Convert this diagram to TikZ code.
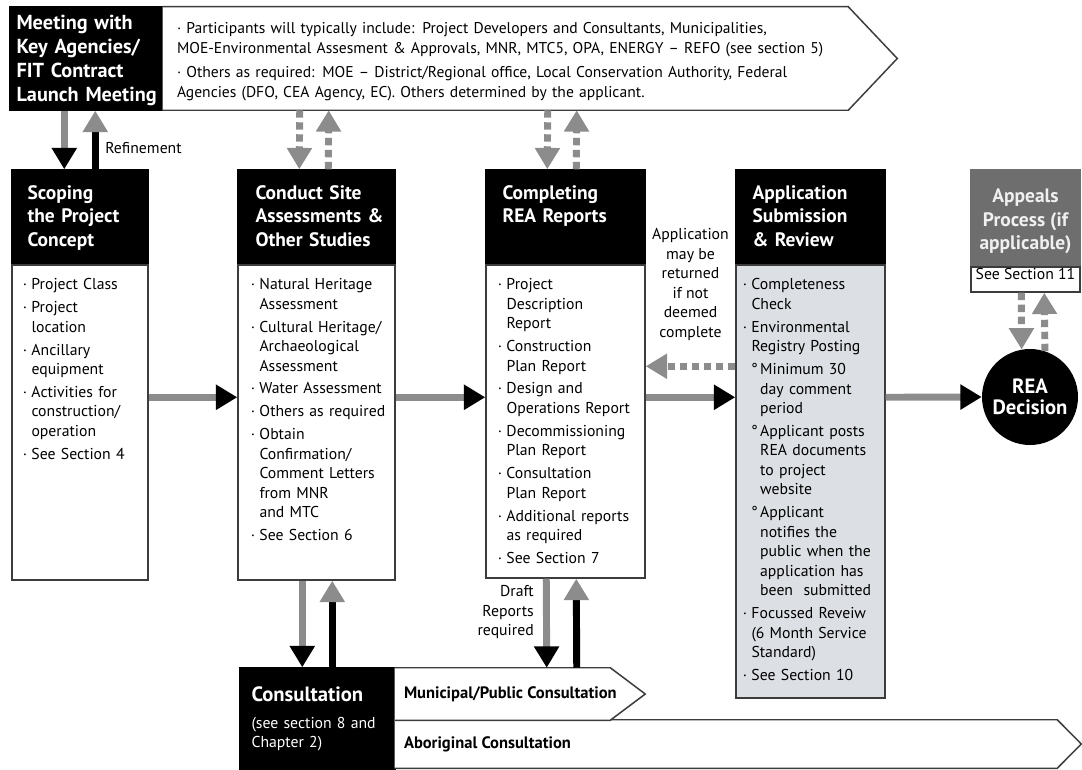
\documentclass[tikz,border=0pt]{standalone}
\usepackage{fontspec}
\setmainfont{PT Sans}
\usetikzlibrary{arrows.meta,calc,fit}
\definecolor{gshaft}{HTML}{8C8C8C}
\definecolor{bordc}{HTML}{3C3C3C}
\definecolor{appfill}{HTML}{DCDFE3}
\definecolor{aplhdr}{HTML}{6E6E6E}
\definecolor{apltxt}{HTML}{F0F0F0}
\newcommand{\bfst}{\noindent\hangindent=6.5pt\hangafter=1\makebox[6.5pt][l]{·}}
\newcommand{\bi}{\par\bfst}
\newcommand{\sbi}{\par\noindent\hangindent=13pt\hangafter=1\hspace*{6.2pt}\makebox[6.8pt][l]{°}}
\newcommand{\nl}{\hfil\break}
\newcommand{\bodyf}{\fontsize{11.8}{14.6}\selectfont\setlength{\parskip}{2.6pt}}
\newcommand{\hdrf}{\fontsize{14.6}{17.6}\selectfont\bfseries}
\begin{document}
\begin{tikzpicture}[x=0.75pt,y=-0.75pt,
  boxr/.style={inner sep=0pt, line width=1.1pt, draw=bordc},
  hdrbox/.style={inner sep=0pt, fill=black, draw=black, line width=1.1pt},
  hdrtxt/.style={anchor=north west, inner sep=0pt, text=white, font=\hdrf, align=left, text width=160pt},
  bodytxt/.style={anchor=north west, inner sep=0pt, font=\bodyf, text width=140pt},
  gdn/.style={draw=gshaft, line width=5.2pt, -{Triangle[length=16pt,width=18pt,color=black]}},
  bup/.style={draw=black, line width=5.2pt, -{Triangle[length=16pt,width=18pt,color=gshaft]}},
  ddash/.style={draw=gshaft, line width=5.2pt, dash pattern=on 5.5pt off 3.5pt, -{Triangle[length=16pt,width=18pt]}},
  outl/.style={draw=bordc, line width=1.1pt, fill=white},
  lbl/.style={inner sep=0pt, font=\bodyf}
  ]
\useasboundingbox (0,0) rectangle (1082,770);
\fill[white] (0,0) rectangle (1082,770);

% top banner
\node[hdrbox, fit={(10,7)(163,110)}] (mtg) {};
\node[inner sep=0pt, fit={(163,7)(848,110)}] (bann) {};
\draw[outl] (bann.north west) -- (bann.north east) -- ($(bann.east)+(49,0)$) -- (bann.south east) -- (bann.south west);

% columns
\node[hdrbox, fit={(12,170)(148,265)}] (sh) {};
\node[boxr, fill=white, fit={(12,265)(148,580)}] (sb) {};
\node[hdrbox, fit={(238,170)(395,265)}] (ch) {};
\node[boxr, fill=white, fit={(238,265)(395,580)}] (cb) {};
\node[hdrbox, fit={(486,170)(645,265)}] (ph) {};
\node[boxr, fill=white, fit={(486,265)(645,578)}] (pb) {};
\node[hdrbox, fit={(736,170)(885,265)}] (ah) {};
\node[boxr, fill=appfill, fit={(736,265)(885,698)}] (ab) {};
\node[boxr, fill=aplhdr, draw=aplhdr, fit={(971,170)(1080,267)}] (aph) {};
\node[inner sep=0pt, text=apltxt, font=\hdrf, align=center] (apht) at ($(aph.center)+(0,3)$) {Appeals\\Process (if\\applicable)};
\node[boxr, fill=white, fit={(971,267)(1080,292)}, font=\bodyf] (aps) {See Section 11};
\node[circle, fill=black, minimum size=72pt, inner sep=0pt, text=white, font=\fontsize{15.5}{16}\selectfont\bfseries, align=center] (rea) at (1030,397) {REA\\Decision};

% consultation
\node[hdrbox, fit={(240,668)(395,770)}] (cons) {};
\node[inner sep=0pt, fit={(395,668)(610,720)}] (mun) {};
\node[inner sep=0pt, fit={(395,720)(1057,768)}] (abo) {};
\draw[outl] (abo.north west) -- (abo.north east) -- ($(abo.east)+(24,0)$) -- (abo.south east) -- (abo.south west);
\draw[outl] (mun.north west) -- (mun.north east) -- ($(mun.east)+(35,0)$) -- (mun.south east) -- (mun.south west);

% texts
\node[hdrtxt, font=\fontsize{15.2}{18}\selectfont\bfseries] (mtgt) at ($(mtg.north west)+(7,9)$) {Meeting with\\Key Agencies/\\FIT Contract\\Launch Meeting};
\node[anchor=north west, inner sep=0pt, font=\fontsize{11.7}{15}\selectfont, text width=560pt] (bannt) at ($(bann.north west)+(14,15)$)
 {\noindent·\hspace{4pt}Participants will typically include: Project Developers and Consultants, Municipalities,\nl MOE-Environmental Assesment \& Approvals, MNR, MTC5, OPA, ENERGY – REFO (see section 5)\par\vspace{3pt}
  \noindent·\hspace{4pt}Others as required: MOE – District/Regional office, Local Conservation Authority, Federal\nl Agencies (DFO, CEA Agency, EC). Others determined by the applicant.};

\node[hdrtxt] (sht) at ($(sh.north west)+(16,16)$) {Scoping\\the Project\\Concept};
\node[hdrtxt] (cht) at ($(ch.north west)+(18,16)$) {Conduct Site\\Assessments \&\\Other Studies};
\node[hdrtxt] (pht) at ($(ph.north west)+(17,16)$) {Completing\\REA Reports};
\node[hdrtxt] (aht) at ($(ah.north west)+(17,16)$) {Application\\Submission\\\& Review};

\node[bodytxt] (sbt) at ($(sb.north west)+(11.3,14)$) {\bfst Project Class
 \bi Project\nl location
 \bi Ancillary\nl equipment
 \bi Activities for\nl construction/\nl operation
 \bi See Section 4};
\node[bodytxt] (cbt) at ($(cb.north west)+(13.3,14)$) {\bfst Natural Heritage\nl Assessment
 \bi Cultural Heritage/\nl Archaeological\nl Assessment
 \bi Water Assessment
 \bi Others as required
 \bi Obtain\nl Confirmation/\nl Comment Letters\nl from MNR\nl and MTC
 \bi See Section 6};
\node[bodytxt] (pbt) at ($(pb.north west)+(12.3,14)$) {\bfst Project\nl Description\nl Report
 \bi Construction\nl Plan Report
 \bi Design and\nl Operations Report
 \bi Decommissioning\nl Plan Report
 \bi Consultation\nl Plan Report
 \bi Additional reports\nl as required
 \bi See Section 7};
\node[bodytxt] (abt) at ($(ab.north west)+(7.3,14)$) {\bfst Completeness\nl Check
 \bi Environmental\nl Registry Posting
 \sbi Minimum 30\nl day comment\nl period
 \sbi Applicant posts\nl REA documents\nl to project\nl website
 \sbi Applicant\nl notifies the\nl public when the\nl application has\nl been\ \ submitted
 \bi Focussed Reveiw\nl (6 Month Service\nl Standard)
 \bi See Section 10};

\node[anchor=north west, inner sep=0pt, text=white, text width=140pt, font=\bodyf] (const) at ($(cons.north west)+(12,19)$)
 {{\noindent\fontsize{15.5}{17}\selectfont\bfseries Consultation\par}\vspace{3pt}\noindent(see section 8 and\nl Chapter 2)};
\node[anchor=west, inner sep=0pt, font=\fontsize{12.4}{13}\selectfont\bfseries] (munt) at ($(mun.west)+(9,0)$) {Municipal/Public Consultation};
\node[anchor=west, inner sep=0pt, font=\fontsize{12.4}{13}\selectfont\bfseries] (abot) at ($(abo.west)+(9,0)$) {Aboriginal Consultation};

\node[lbl, anchor=west] (refl) at (105,148) {Refinement};
\node[lbl, anchor=east, align=right] (draft) at (534,612) {Draft\\Reports\\required};
\node[lbl, align=center] (ret) at (690.5,284.5) {Application\\may be\\returned\\if not\\deemed\\complete};

% arrows banner <-> columns
\draw[gdn] ($(mtg.south west)+(55,0)$) -- ($(sh.north west)+(53,0)$);
\draw[bup] ($(sh.north west)+(84,0)$) -- ($(mtg.south west)+(86,0)$);
\draw[ddash] ($(bann.south west)+(137,0)$) -- ($(ch.north west)+(62,0)$);
\draw[ddash] ($(ch.north west)+(91,0)$) -- ($(bann.south west)+(166,0)$);
\draw[ddash] ($(bann.south west)+(385,0)$) -- ($(ph.north west)+(62,0)$);
\draw[ddash] ($(ph.north west)+(91,0)$) -- ($(bann.south west)+(414,0)$);

% horizontal flow
\draw[gdn] ($(sb.north east)+(0,133)$) -- ($(cb.north west)+(0,133)$);
\draw[gdn] ($(cb.north east)+(0,133)$) -- ($(pb.north west)+(0,133)$);
\draw[gdn] ($(pb.north east)+(0,133)$) -- ($(ab.north west)+(0,133)$);
\draw[ddash] ($(ab.north west)+(0,102)$) -- ($(pb.north east)+(0,102)$);
\draw[gdn] ($(ab.north east)+(0,133)$) -- (rea.west);

% appeals
\draw[ddash] ($(aps.south west)+(51,0)$) -- (rea.100);
\draw[ddash] (rea.72) -- ($(aps.south west)+(74,0)$);

% consultation
\draw[gdn] ($(cb.south west)+(65,0)$) -- ($(cons.north west)+(63,0)$);
\draw[bup] ($(cons.north west)+(93,0)$) -- ($(cb.south west)+(95,0)$);
\draw[gdn] ($(pb.south west)+(61,0)$) -- ($(mun.north west)+(152,0)$);
\draw[bup] ($(mun.north west)+(182,0)$) -- ($(pb.south west)+(91,0)$);
\end{tikzpicture}
\end{document}
